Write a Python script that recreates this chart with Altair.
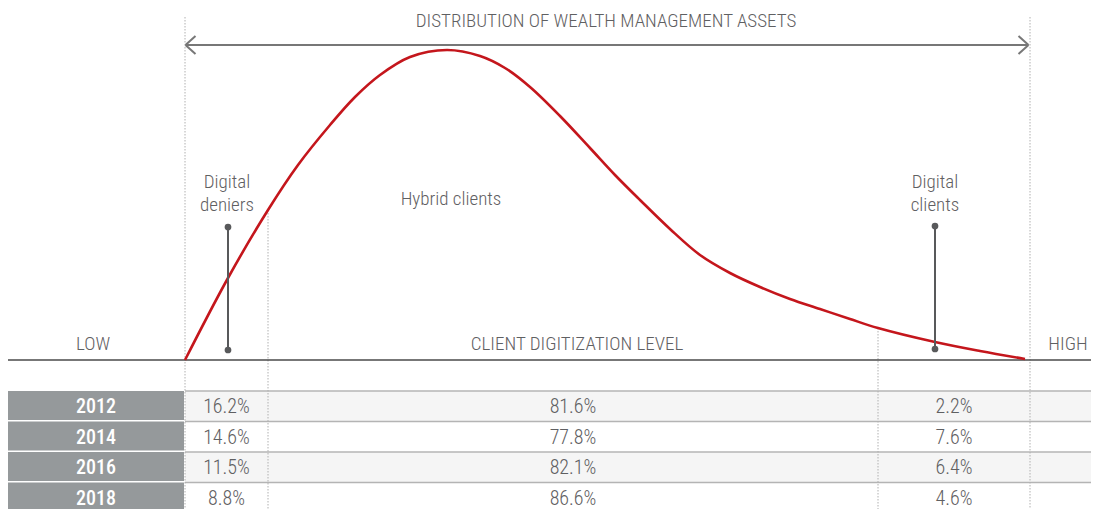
import altair as alt
import pandas as pd

# ---------------- data ----------------
years = ["2012", "2014", "2016", "2018"]
digital_deniers = [16.2, 14.6, 11.5, 8.8]
hybrid_clients = [81.6, 77.8, 82.1, 86.6]
digital_clients = [2.2, 7.6, 6.4, 4.6]
segments = ["Digital deniers", "Hybrid clients", "Digital clients"]

# distribution-of-assets curve (diagram coordinates, y grows downward)
curve_x = [185, 228, 268, 298, 330, 355, 380, 410, 447, 480, 505, 530, 560, 590, 615, 640, 670, 700,
           730, 760, 790, 820, 850, 878, 935, 980, 1025]
curve_y = [360, 278, 210, 165, 125, 97, 75, 57, 50, 56, 68, 87, 116, 148, 175, 200, 229, 255,
           273, 287, 299, 309, 319, 328, 342, 351, 359]

# ---------------- layout (diagram coordinates) ----------------
FONT = "'Roboto Condensed', 'Liberation Sans Narrow', 'DejaVu Sans Condensed', Roboto, sans-serif"
TXT = "#5f6062"
RED = "#c4161c"
GRAYCELL = "#95999b"
seg_bounds = [185, 268, 878, 1030]
base_y = 360
row_tops = [391, 421.5, 452, 482.5]
row_h = 30.5

xs = alt.Scale(domain=[8, 1091], nice=False, zero=False)
ys = alt.Scale(domain=[8, 509], reverse=True, nice=False, zero=False)


def X(f):
    return alt.X(f, type="quantitative", scale=xs, axis=None)


def Y(f):
    return alt.Y(f, type="quantitative", scale=ys, axis=None)


# table backgrounds
rows = pd.DataFrame({
    "year": years,
    "top": row_tops,
    "bot": [t + row_h for t in row_tops],
    "ybot": [t + row_h - 1.5 for t in row_tops],
    "fill": ["#f5f5f5", "#ffffff", "#f5f5f5", "#ffffff"],
})
rows["xa"] = seg_bounds[0]
rows["xb"] = 1099
rows["ya"] = 8
rows["yb"] = seg_bounds[0] - 1

row_bg = alt.Chart(rows).mark_rect(clip=True).encode(
    x=X("xa"), x2="xb", y=Y("top"), y2="bot", color=alt.Color("fill:N", scale=None)
)
year_cells = alt.Chart(rows).mark_rect(color=GRAYCELL, clip=True).encode(
    x=X("ya"), x2="yb", y=Y("top"), y2="ybot"
)
separators = alt.Chart(rows).mark_rule(color="#b4b4b4", strokeWidth=1.5, clip=True).encode(
    x=X("xa"), x2="xb", y=Y("top")
)

# dotted segment boundaries
bounds = pd.DataFrame({
    "x": seg_bounds,
    "ytop": [17, 210, 328, 17],
    "ybot": [509, 509, 509, 509],
})
dotted = alt.Chart(bounds).mark_rule(color="#b0b0b0", strokeWidth=1, strokeDash=[1.5, 1.5], clip=True).encode(
    x=X("x"), y=Y("ytop"), y2="ybot"
)

# baseline
baseline = alt.Chart(pd.DataFrame({"xa": [8], "xb": [1099], "y": [base_y]})).mark_rule(
    color="#4a4a4a", strokeWidth=1.3, clip=True
).encode(x=X("xa"), x2="xb", y=Y("y"))

# double arrow
arrow_segs = pd.DataFrame({
    "xa": [186, 185.5, 185.5, 1028.5, 1028.5],
    "xb": [1028, 195.5, 195.5, 1018.5, 1018.5],
    "ya": [45, 45, 45, 45, 45],
    "yb": [45, 36, 54, 36, 54],
})
arrow = alt.Chart(arrow_segs).mark_rule(color="#777777", strokeWidth=2).encode(
    x=X("xa"), x2="xb", y=Y("ya"), y2="yb"
)

# curve
curve = alt.Chart(pd.DataFrame({"x": curve_x, "y": curve_y, "o": range(len(curve_x))})).mark_line(
    color=RED, strokeWidth=2.6, interpolate="catmull-rom"
).encode(x=X("x"), y=Y("y"), order="o:Q")

# pins
pins = pd.DataFrame({"x": [228, 935], "ya": [227, 226], "yb": [350, 349]})
pin_lines = alt.Chart(pins).mark_rule(color="#58595b", strokeWidth=2).encode(x=X("x"), y=Y("ya"), y2="yb")
pin_pts = pd.DataFrame({"x": [228, 228, 935, 935], "y": [227, 350, 226, 349]})
pin_dots = alt.Chart(pin_pts).mark_point(filled=True, color="#58595b", size=45, opacity=1).encode(
    x=X("x"), y=Y("y")
)

# labels
labels = pd.DataFrame({
    "t": ["DISTRIBUTION OF WEALTH MANAGEMENT ASSETS", "LOW", "CLIENT DIGITIZATION LEVEL", "HIGH",
          "Digital", "deniers", "Hybrid clients", "Digital", "clients"],
    "x": [606, 93, 577, 1068, 227, 227, 451, 935, 935],
    "y": [21, 344, 344, 344, 182, 205, 199, 182, 205],
})
label_text = alt.Chart(labels).mark_text(font=FONT, fontSize=19, fontWeight=300, color=TXT,
                                         align="center", baseline="middle").encode(
    x=X("x"), y=Y("y"), text="t:N"
)

# table values
centers = [(seg_bounds[i] + seg_bounds[i + 1]) / 2 for i in range(3)]
vals = []
for i, yr in enumerate(years):
    for j, series in enumerate([digital_deniers, hybrid_clients, digital_clients]):
        vals.append({"year": yr, "segment": segments[j], "t": f"{series[i]:.1f}%",
                     "x": centers[j], "y": row_tops[i] + 16})
vals = pd.DataFrame(vals)
val_text = alt.Chart(vals).mark_text(font=FONT, fontSize=20, fontWeight=300, color=TXT,
                                     align="center", baseline="middle").encode(
    x=X("x"), y=Y("y"), text="t:N"
)
yrs = pd.DataFrame({"t": years, "x": [96] * 4, "y": [t + 16 for t in row_tops]})
year_text = alt.Chart(yrs).mark_text(font=FONT, fontSize=20, fontWeight=500, color="white",
                                     align="center", baseline="middle").encode(
    x=X("x"), y=Y("y"), text="t:N"
)

chart = alt.layer(
    row_bg, year_cells, separators, dotted, baseline, arrow, curve, pin_lines, pin_dots,
    label_text, val_text, year_text
).properties(
    width=1083, height=501, autosize=alt.AutoSizeParams(type="none"), padding=0, background="white"
).configure_view(stroke=None)

chart.save("out.html", embed_options={"renderer": "svg", "actions": False})
